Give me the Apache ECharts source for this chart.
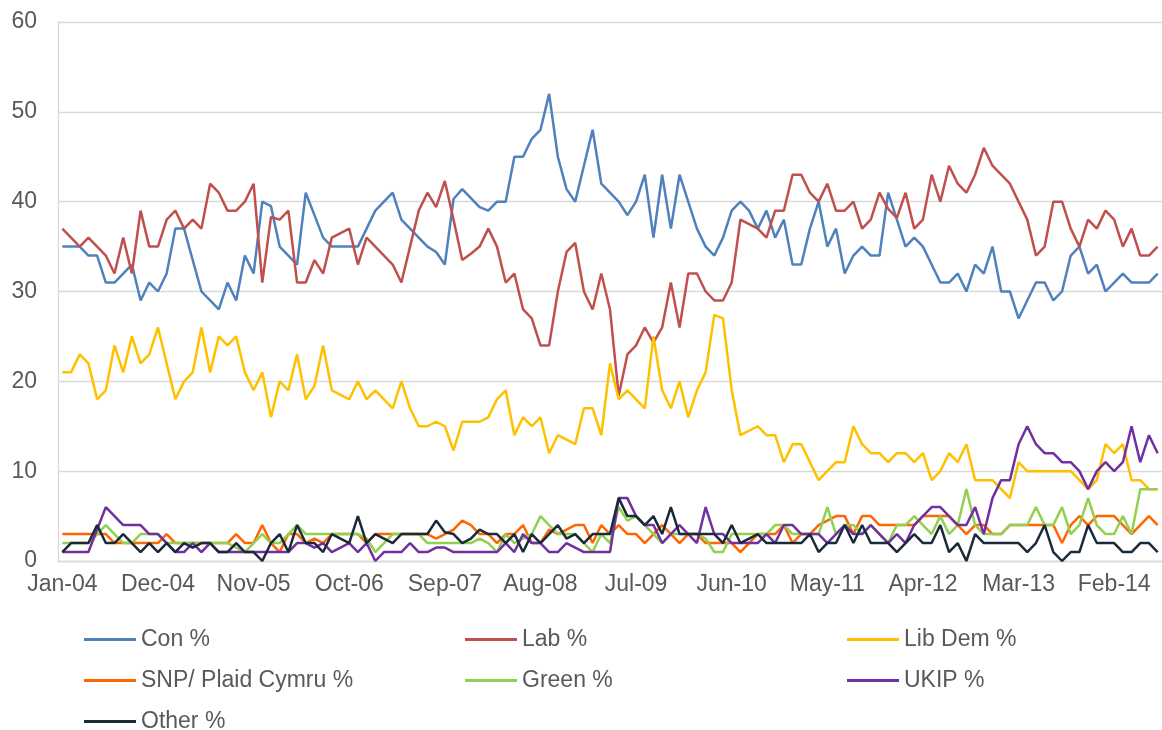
<!DOCTYPE html>
<html>
<head>
<meta charset="utf-8">
<script src="https://cdn.jsdelivr.net/npm/echarts@6/dist/echarts.min.js"></script>
<style>
  html, body { margin: 0; padding: 0; background: #fff; }
  #chart-container { width: 1162px; height: 730px; }
</style>
</head>
<body>
<div id="chart-container"></div>
<script>
// monthly categories Jan-04 .. Jul-14
var monthNames = ['Jan', 'Feb', 'Mar', 'Apr', 'May', 'Jun', 'Jul', 'Aug', 'Sep', 'Oct', 'Nov', 'Dec'];
var categories = [];
for (var y = 2004; y <= 2014; y++) {
  for (var m = 0; m < 12; m++) {
    if (y === 2014 && m > 6) break;
    categories.push(monthNames[m] + '-' + String(y).slice(2));
  }
}

var con = [35,35,35,34,34,31,31,32,33,29,31,30,32,37,37,33.5,30,29,28,31,29,34,32,40,39.5,35,
  34,33,41,38.5,36,35,35,35,35,37,39,40,41,38,37,36,35,34.4,33,40.3,41.4,40.4,39.4,39,40,40,
  45,45,47,48,52,45,41.4,40,44,48,42,41,40,38.5,40,43,36,43,37,43,40,37,35,34,36,
  39,40,39,37,39,36,38,33,33,37,40,35,37,32,34,35,34,34,41,38,35,36,35,33,31,
  31,32,30,33,32,35,30,30,27,29,31,31,29,30,34,35,32,33,30,31,32,31,31,31,32];

var lab = [37,36,35,36,35,34,32,36,32,39,35,35,38,39,37,38,37,42,41,39,39,40,42,31,38.3,38,
  39,31,31,33.5,32,36,36.5,37,33,36,35,34,33,31,35,39,41,39.4,42.3,38,33.5,34.2,35,37,35,31,
  32,28,27,24,24,30,34.4,35.4,30,28,32,28,18.4,23,24,26,24.3,26,31,26,32,32,30,29,29,
  31,38,37.5,37,36,39,39,43,43,41,40,42,39,39,40,37,38,41,39.2,38.2,41,37,38,43,40,
  44,42,41,43,46,44,43,42,40,38,34,35,40,40,37,35,38,37,39,38,35,37,34,34,35];

var libDem = [21,21,23,22,18,19,24,21,25,22,23,26,22,18,20,21,26,21,25,24,25,21,19,21,16,20,
  19,23,18,19.5,24,19,18.5,18,20,18,19,18,17,20,17,15,15,15.5,15,12.3,15.5,15.5,15.5,16,18,19,
  14,16,15,16,12,14,13.5,13,17,17,14,22,18,19,18,17,25,19,17,20,16,19,21,27.4,27,
  19,14,14.5,15,14,14,11,13,13,11,9,10,11,11,15,13,12,12,11,12,12,11,12,9,10,
  12,11,13,9,9,9,8,7,11,10,10,10,10,10,10,9,8,9,13,12,13,9,9,8,8];

var snp = [3,3,3,3,3,3,2,2,2,2,2,2,3,2,2,2,2,2,2,2,3,2,2,4,2,1,
  3,3,2,2.5,2,3,3,3,3,2,3,3,3,3,3,3,3,2.5,3,3.5,4.5,4,3,3,2,3,
  3,4,2,2,3.5,3,3.5,4,4,2,4,3,4,3,3,2,3,4,3,2,3,3,2,2,2,
  2,1,2,3,3,3,4,2,3,3,4,4.5,5,5,3,5,5,4,4,4,4,4,5,5,5,
  5,4,3,4,4,3,3,4,4,4,4,4,4,2,4,5,4,5,5,5,4,3,4,5,4];

var green = [2,2,2,2,3,4,3,2,2,3,3,3,2,2,2,2,2,2,2,2,1.5,1,2,3,2,2,
  3,4,3,3,3,3,3,3,3,2.5,1,2,3,3,3,3,2,2,2,2,2,2,2.5,2,1,3,
  2,2.5,3,5,4,3,3,3,2,1,3,2,6,4.5,5,4,3,2,3,3,3,3,2.5,1,1,
  3,3,3,3,3,4,4,3,3,3,3,6,3,4,4,3,4,3,2,4,4,5,4,3,5,
  3,4,8,4,3,3,3,4,4,4,6,4,4,6,3,4,7,4,3,3,5,3,8,8,8];

var ukip = [1,1,1,1,3.5,6,5,4,4,4,3,3,2,1,1,2,1,2,1,1,1,1,1,1,1,1,
  1,2,2,1.5,2,1,1.5,2,1,2,0,1,1,1,2,1,1,1.5,1.5,1,1,1,1,1,1,2,
  1,3,2,2,1,1,2,1.5,1,1,1,1,7,7,5,4,4,2,3,4,3,2,6,3,3,
  2,2,2,2,3,2,4,4,3,3,3,2,3,4,3,3,4,3,2,3,2,4,5,6,6,
  5,4,4,6,3,7,9,9,13,15,13,12,12,11,11,10,8,10,11,10,11,15,11,14,12];

var other = [1,2,2,2,4,2,2,3,2,1,2,1,2,1,2,1.5,2,2,1,1,2,1,1,0,2,3,
  1,4,2,2,1,3,2.5,2,5,2,3,2.5,2,3,3,3,3,4.5,3.2,3,2,2.5,3.5,3,3,2,
  3,1,3,2,3,4,2.5,3,2,3,3,3,7,5,5,4,5,3,6,3,3,3,3,3,2,
  4,2,2.5,3,2,2,2,2,2,3,1,2,2,4,2,4,2,2,2,1,2,3,2,2,4,
  1,2,0,3,2,2,2,2,2,1,2,4,1,0,1,1,4,2,2,2,1,1,2,2,1];

var seriesNames = ['Con %', 'Lab %', 'Lib Dem %', 'SNP/ Plaid Cymru %', 'Green %', 'UKIP %', 'Other %'];
var seriesData = [con, lab, libDem, snp, green, ukip, other];
var colors = ['#4F81BD', '#C0504D', '#FFC000', '#FF6600', '#92D050', '#7030A0', '#1B2A3A'];

var dom = document.getElementById('chart-container');
var myChart = echarts.init(dom, null, { renderer: 'canvas' });

var fontFamily = '"Liberation Sans", Arial, sans-serif';
var textColor = '#595959';

// legend is a 3-column grid, one legend box per entry
var legendCols = [84, 465, 847];
var legendRows = [628, 669, 710];

function legendItem(k) {
  return {
    left: legendCols[k % 3],
    top: legendRows[Math.floor(k / 3)],
    padding: 0,
    itemWidth: 52,
    itemHeight: 3,
    icon: 'rect',
    selectedMode: false,
    data: [seriesNames[k]],
    textStyle: { fontSize: 23, lineHeight: 23, color: textColor, fontFamily: fontFamily }
  };
}

var option = {
  animation: false,
  color: colors,
  grid: { left: 58, right: -6, top: 22, bottom: 169 },
  legend: seriesNames.map(function (n, k) { return legendItem(k); }),
  xAxis: {
    type: 'category',
    data: categories,
    boundaryGap: true,
    axisLine: { lineStyle: { color: '#d9d9d9', width: 1.3 } },
    axisTick: { interval: 10, length: 7, lineStyle: { color: '#d9d9d9', width: 1.3 } },
    axisLabel: { interval: 10, margin: 12, fontSize: 23, color: textColor, fontFamily: fontFamily }
  },
  yAxis: {
    type: 'value',
    min: 0,
    max: 60,
    interval: 10,
    axisLine: { show: true, lineStyle: { color: '#d9d9d9', width: 1.3 } },
    axisTick: { show: false },
    splitLine: { lineStyle: { color: '#d9d9d9', width: 1.3 } },
    axisLabel: { margin: 21, fontSize: 23, color: textColor, fontFamily: fontFamily }
  },
  series: seriesNames.map(function (name, k) {
    return {
      name: name,
      type: 'line',
      data: seriesData[k],
      showSymbol: false,
      symbol: 'none',
      lineStyle: { width: 2.5, color: colors[k] },
      itemStyle: { color: colors[k] }
    };
  })
};

myChart.setOption(option);
window.addEventListener('resize', myChart.resize);
</script>
</body>
</html>
